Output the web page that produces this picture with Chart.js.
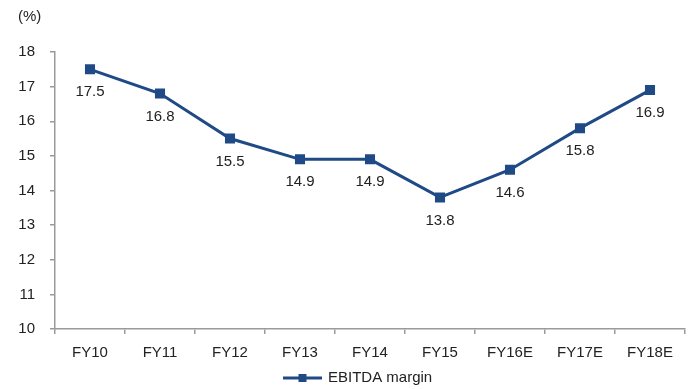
<!DOCTYPE html>
<html>
<head>
<meta charset="utf-8">
<script src="https://cdn.jsdelivr.net/npm/chart.js@4/dist/chart.umd.min.js"></script>
<style>
  html, body { margin: 0; padding: 0; background: #fff; }
  #wrap { position: relative; width: 696px; height: 389px; }
</style>
</head>
<body>
<div id="wrap"><canvas id="c" width="696" height="389"></canvas></div>
<script>
const categories = ['FY10', 'FY11', 'FY12', 'FY13', 'FY14', 'FY15', 'FY16E', 'FY17E', 'FY18E'];
const ebitdaMargin = [17.5, 16.8, 15.5, 14.9, 14.9, 13.8, 14.6, 15.8, 16.9];
const seriesName = 'EBITDA margin';
const unitLabel = '(%)';

const LINE_COLOR = '#1F4A85';
const TEXT_COLOR = '#222222';
const AXIS_COLOR = '#9a9a9a';
const FONT = 'Liberation Sans, Arial, sans-serif';

// Value labels beneath each point, unit caption and bottom legend
const extras = {
  id: 'extras',
  afterDatasetsDraw(chart) {
    const ctx = chart.ctx;
    const meta = chart.getDatasetMeta(0);
    ctx.save();
    ctx.font = '15px ' + FONT;
    ctx.fillStyle = TEXT_COLOR;
    ctx.textAlign = 'center';
    ctx.textBaseline = 'middle';
    meta.data.forEach((pt, i) => {
      ctx.fillText(ebitdaMargin[i].toFixed(1), pt.x, pt.y + 23);
    });

    // unit caption
    ctx.textAlign = 'left';
    ctx.fillText(unitLabel, 18, 17);

    // legend: line with square marker, then text
    const ly = 378;
    const lx = 283;
    ctx.strokeStyle = LINE_COLOR;
    ctx.lineWidth = 3;
    ctx.beginPath();
    ctx.moveTo(lx, ly);
    ctx.lineTo(lx + 39, ly);
    ctx.stroke();
    ctx.fillStyle = LINE_COLOR;
    ctx.fillRect(lx + 19.5 - 4, ly - 4, 8, 8);
    ctx.fillStyle = TEXT_COLOR;
    ctx.fillText(seriesName, lx + 45, ly);
    ctx.restore();
  }
};

new Chart(document.getElementById('c'), {
  type: 'line',
  data: {
    labels: categories,
    datasets: [{
      label: seriesName,
      data: ebitdaMargin,
      borderColor: LINE_COLOR,
      backgroundColor: LINE_COLOR,
      borderWidth: 3,
      pointStyle: 'rect',
      pointRadius: 5,
      pointHoverRadius: 5,
      tension: 0
    }]
  },
  options: {
    responsive: false,
    animation: false,
    devicePixelRatio: 1,
    layout: { padding: { top: 52, right: 11, bottom: 30, left: 0 } },
    plugins: { legend: { display: false }, tooltip: { enabled: false } },
    scales: {
      x: {
        offset: true,
        grid: { display: true, drawOnChartArea: false, offset: true, color: AXIS_COLOR, tickLength: 5, lineWidth: 1.5 },
        border: { display: true, color: AXIS_COLOR, width: 1.5 },
        ticks: { color: TEXT_COLOR, font: { family: FONT, size: 15 }, padding: 10, maxRotation: 0 },
        afterFit(scale) { scale.height = 30; }
      },
      y: {
        min: 10,
        max: 18,
        grid: { display: true, drawOnChartArea: false, color: AXIS_COLOR, tickLength: 5, lineWidth: 1.5 },
        border: { display: true, color: AXIS_COLOR, width: 1.5 },
        ticks: { stepSize: 1, color: TEXT_COLOR, font: { family: FONT, size: 15 }, padding: 15 },
        afterFit(scale) { scale.width = 55; }
      }
    }
  },
  plugins: [extras]
});
</script>
</body>
</html>
